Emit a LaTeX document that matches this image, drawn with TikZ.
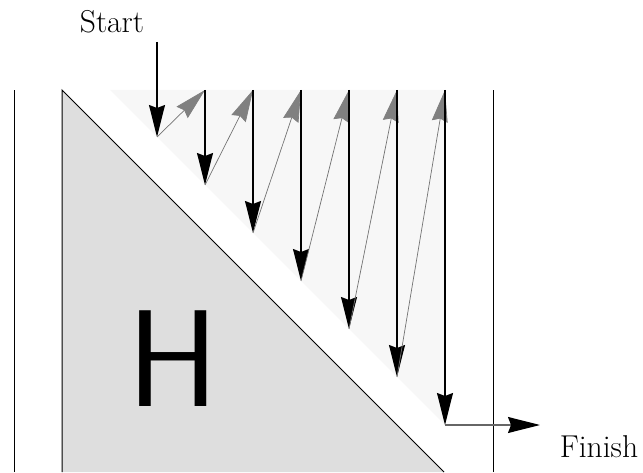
\documentclass[tikz,border=0pt]{standalone}
\usetikzlibrary{arrows.meta}
\begin{document}
\begin{tikzpicture}[x=0.5pt, y=0.5pt, font=\fontsize{15.8}{19}\selectfont,
    >={Stealth[length=16pt, width=8pt, inset=1.5pt]},
    down/.style={->, line width=0.6pt, black},
    up/.style={->, line width=0.35pt, black!55, >={Stealth[length=16pt, width=8pt, inset=1.5pt, black!50]}}]
    \useasboundingbox (0,0) rectangle (643,472);
    % walls and regions
    \draw[line width=0.5pt] (14,0) -- (14,382);
    \draw[line width=0.5pt] (493,0) -- (493,382);
    \fill[black!3] (110,382) -- (445,382) -- (445,47) -- cycle;
    \filldraw[fill=black!13, line width=0.5pt] (62,0) -- (62,382) -- (444,0);
    \node (h) at (173,113) {\fontsize{69}{69}\selectfont\sffamily H};
    % top and bottom points of the columns
    \coordinate (t1) at (157,382); \coordinate (b1) at (157,335);
    \coordinate (t2) at (205,382); \coordinate (b2) at (205,287);
    \coordinate (t3) at (253,382); \coordinate (b3) at (253,239);
    \coordinate (t4) at (301,382); \coordinate (b4) at (301,191);
    \coordinate (t5) at (349,382); \coordinate (b5) at (349,143);
    \coordinate (t6) at (397,382); \coordinate (b6) at (397,95);
    \coordinate (t7) at (445,382); \coordinate (b7) at (445,47);
    \coordinate (s0) at (157,430);
    \coordinate (f0) at (540,47);
    \node (start) at (112,450) {Start};
    \node (finish) at (599,25) {Finish};
    % zig-zag
    \draw[down] (s0) -- (b1);
    \draw[up] (b1) -- (t2); \draw[down] (t2) -- (b2);
    \draw[up] (b2) -- (t3); \draw[down] (t3) -- (b3);
    \draw[up] (b3) -- (t4); \draw[down] (t4) -- (b4);
    \draw[up] (b4) -- (t5); \draw[down] (t5) -- (b5);
    \draw[up] (b5) -- (t6); \draw[down] (t6) -- (b6);
    \draw[up] (b6) -- (t7); \draw[down] (t7) -- (b7);
    \draw[->, line width=0.6pt, black!60, >={Stealth[length=16pt, width=8pt, inset=1.5pt, black]}] (b7) -- (f0);
\end{tikzpicture}
\end{document}
